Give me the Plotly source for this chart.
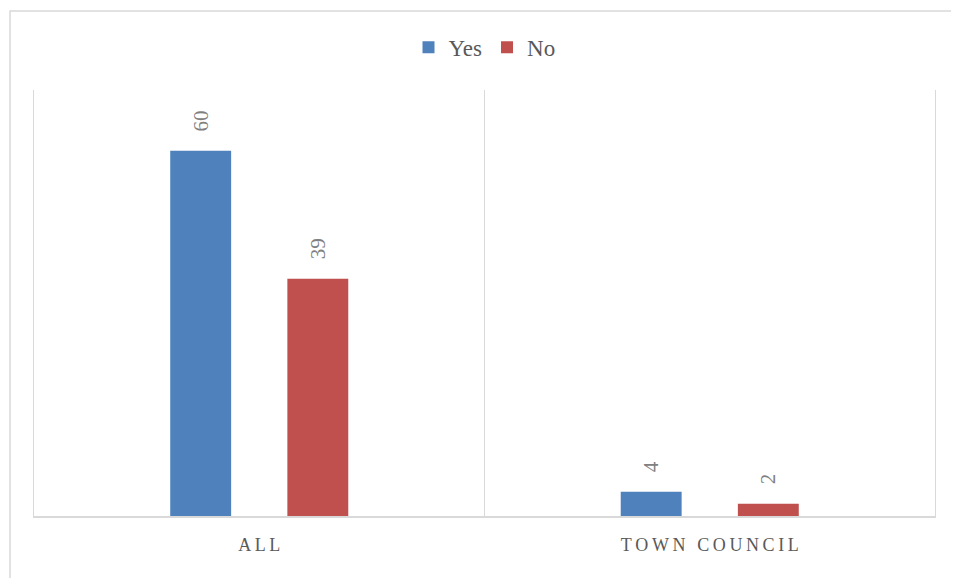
import plotly.graph_objects as go

categories = ["ALL", "TOWN COUNCIL"]
yes_values = [60, 4]
no_values = [39, 2]


def spaced(s):
    # Excel-style letter spacing on the category labels
    return "\u2009".join(s)


tick_text = [spaced(c) for c in categories]

fig = go.Figure()
fig.add_trace(go.Bar(name="Yes", x=categories, y=yes_values, marker_color="#4F81BD"))
fig.add_trace(go.Bar(name="No", x=categories, y=no_values, marker_color="#C0504D"))

# rotated data labels, padded a little off the bar tops
fig.update_traces(texttemplate="\u2002\u2009\u200a%{y}", textposition="outside", textangle=-90,
                  cliponaxis=False,
                  textfont=dict(family="Liberation Serif", size=21, color="#808080"),
                  marker_line_width=0)

fig.update_layout(
    width=959, height=578,
    margin=dict(l=26, r=32, t=82, b=70),
    paper_bgcolor="white", plot_bgcolor="white",
    barmode="group", bargap=0.48, bargroupgap=0.48,
    font=dict(family="Liberation Serif", color="#595959"),
    legend=dict(orientation="h", x=0.5, xanchor="center", y=1.1, yanchor="middle",
                font=dict(size=23, color="#595959"), itemwidth=30),
    showlegend=True,
)
fig.update_xaxes(tickmode="array", tickvals=categories, ticktext=tick_text,
                 tickson="boundaries", showgrid=True, gridcolor="#D9D9D9", gridwidth=1,
                 showline=True, linecolor="#D9D9D9", linewidth=2, ticks="",
                 ticklabelstandoff=11,
                 tickfont=dict(size=18, color="#595959"), range=[-0.5, 1.5])
fig.update_yaxes(range=[0, 70], showticklabels=False, showgrid=False, zeroline=False,
                 ticks="", showline=True, mirror=True, linecolor="#D9D9D9", linewidth=1)

# outer chart-area border (cropped on right/bottom)
fig.add_shape(type="rect", xref="paper", yref="paper",
              x0=-0.0266, x1=1.2, y0=-0.3, y1=1.1854,
              line=dict(color="#D9D9D9", width=1.5), layer="below")

fig.write_html("out.html")
